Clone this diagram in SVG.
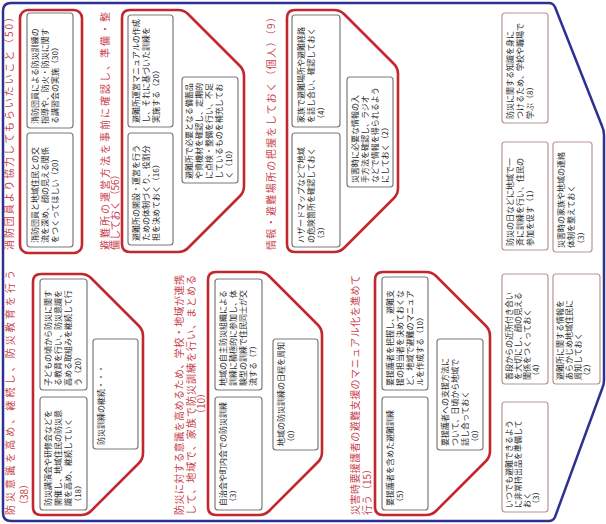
<svg xmlns="http://www.w3.org/2000/svg" width="606" height="524" viewBox="0 0 606 524">
<style>
.outer{fill:#fff;stroke:#2e3192;stroke-width:2.5;stroke-linejoin:round}
.grp{fill:none;stroke:#c1272d;stroke-width:2.6;stroke-linejoin:round}
.box{fill:#fff;stroke:#7a7a7a;stroke-width:1.2}
.rbox{fill:#fff;stroke:#b89595;stroke-width:1.2}
.hd{font-family:"Noto Sans CJK JP","Noto Sans",sans-serif;font-size:10px;fill:#c8414b}
.tx{font-family:"Noto Sans CJK JP","Noto Sans",sans-serif;font-size:8px;fill:#2a2a2a}
</style>
<rect width="606" height="524" fill="#fff"/>
<g transform="translate(0,524) rotate(-90)">
<g id="frame"><path class="outer" d="M 3,11 Q 3,3 11,3 H 513 Q 521,3 521,11 V 549 Q 521,553 517,555 L 398,602 Q 394,604 389,604 H 144 Q 139,604 135,602 L 7,555 Q 3,553 3,549 Z"/></g>

<g id="g-firefighters">
<rect class="grp" x="271" y="20" width="243" height="62" rx="8"/>
<text class="hd" x="274" y="13" textLength="238" lengthAdjust="spacing">消防団員より協力してもらいたいこと（50）</text>
</g>
<g id="box-a"><rect class="box" x="396" y="27" width="115" height="46" rx="3"/>
<text class="tx"><tspan x="400" y="38">消防団員による防災訓練の</tspan><tspan x="400" y="48">指導や、防火・防災に関す</tspan><tspan x="400" y="58">る講習会の実施（30）</tspan></text></g>
<g id="box-b"><rect class="box" x="277" y="27" width="114" height="46" rx="3"/>
<text class="tx"><tspan x="281" y="38">消防団員と地域住民との交</tspan><tspan x="281" y="48">流を深め、顔の見える関係</tspan><tspan x="281" y="58">をつくってほしい（20）</tspan></text></g>

<g id="g-shelter">
<path class="grp" d="M 280,122 H 506 Q 514,122 514,130 V 178 Q 514,184 510,188 L 458,240 Q 454,244 448,244 H 338 Q 332,244 328,240 L 276,188 Q 272,184 272,178 V 130 Q 272,122 280,122 Z"/>
<text class="hd" x="274" y="109" textLength="238" lengthAdjust="spacing">避難所の運営方法を事前に確認し、準備・整</text>
<text class="hd" x="274" y="119">備しておく（56）</text>
</g>
<g id="box-c"><rect class="box" x="397" y="128" width="112" height="45" rx="3"/>
<text class="tx"><tspan x="401" y="139">避難所運営マニュアルの作成</tspan><tspan x="401" y="149">し、それに基づいた訓練を</tspan><tspan x="401" y="159">実施する（20）</tspan></text></g>
<g id="box-d"><rect class="box" x="279" y="128" width="112" height="45" rx="3"/>
<text class="tx"><tspan x="283" y="139">避難所の開設・運営を行う</tspan><tspan x="283" y="149">ための体制づくり、役割分</tspan><tspan x="283" y="159">担を決めておく（16）</tspan></text></g>
<g id="box-e"><rect class="box" x="341" y="182" width="106" height="56" rx="3"/>
<text class="tx"><tspan x="345" y="192">避難所で必要となる備蓄品</tspan><tspan x="345" y="202">や資機材を確認し、定期的</tspan><tspan x="345" y="212">に点検・整備を行い、不足</tspan><tspan x="345" y="222">しているものを補充してお</tspan><tspan x="345" y="232">く（10）</tspan></text></g>

<g id="g-info">
<path class="grp" d="M 280,287 H 506 Q 514,287 514,295 V 334 Q 514,340 510,344 L 460,394 Q 456,398 450,398 H 336 Q 330,398 326,394 L 276,344 Q 272,340 272,334 V 295 Q 272,287 280,287 Z"/>
<text class="hd" x="274" y="275" textLength="238" lengthAdjust="spacing">情報・避難場所の把握をしておく（個人）（9）</text>
</g>
<g id="box-f"><rect class="box" x="397" y="292" width="112" height="48" rx="3"/>
<text class="tx"><tspan x="401" y="304">家族で避難場所や避難経路</tspan><tspan x="401" y="314">を話し合い、確認しておく</tspan><tspan x="401" y="324">（4）</tspan></text></g>
<g id="box-g"><rect class="box" x="277" y="292" width="114" height="48" rx="3"/>
<text class="tx"><tspan x="281" y="304">ハザードマップなどで地域</tspan><tspan x="281" y="314">の危険箇所を確認しておく</tspan><tspan x="281" y="324">（3）</tspan></text></g>
<g id="box-h"><rect class="box" x="337" y="347" width="110" height="46" rx="3"/>
<text class="tx"><tspan x="341" y="358">災害時に必要な情報の入</tspan><tspan x="341" y="368">手方法を確認し、ラジオ</tspan><tspan x="341" y="378">などで情報を得られるよう</tspan><tspan x="341" y="388">にしておく（2）</tspan></text></g>

<g id="g-education">
<path class="grp" d="M 17,33 H 242 Q 250,33 250,41 V 81 Q 250,87 246,91 L 198,139 Q 194,143 188,143 H 71 Q 65,143 61,139 L 13,91 Q 9,87 9,81 V 41 Q 9,33 17,33 Z"/>
<text class="hd" x="9" y="14" textLength="245" lengthAdjust="spacing">防災意識を高め、継続し、防災教育を行う</text>
<text class="hd" x="14" y="28">（38）</text>
</g>
<g id="box-i"><rect class="box" x="134" y="40" width="111" height="47" rx="3"/>
<text class="tx"><tspan x="138" y="51">子どもの頃から防災に関す</tspan><tspan x="138" y="61">る教育を行い、防災意識を</tspan><tspan x="138" y="71">高める取組みを継続して行</tspan><tspan x="138" y="81">う（20）</tspan></text></g>
<g id="box-j"><rect class="box" x="14" y="40" width="113" height="47" rx="3"/>
<text class="tx"><tspan x="18" y="51">防災講演会や研修会などを</tspan><tspan x="18" y="61">開催し、地域住民の防災意</tspan><tspan x="18" y="71">識を高め、継続していく</tspan><tspan x="18" y="81">（18）</tspan></text></g>
<g id="box-k"><rect class="box" x="75" y="93" width="110" height="45" rx="3"/>
<text class="tx" x="79" y="104">防災訓練の継続・・・</text></g>

<g id="g-drill">
<path class="grp" d="M 17,208 H 244 Q 252,208 252,216 V 259 Q 252,265 248,269 L 199,318 Q 195,322 189,322 H 72 Q 66,322 62,318 L 13,269 Q 9,265 9,259 V 216 Q 9,208 17,208 Z"/>
<text class="hd" x="9" y="183" textLength="240" lengthAdjust="spacing">防災に対する意識を高めるため、学校・地域が連携</text>
<text class="hd" x="9" y="195" textLength="240" lengthAdjust="spacing">して、地域で、家族で防災訓練を行い、まとめる</text>
<text class="hd" x="105" y="205">（10）</text>
</g>
<g id="box-l"><rect class="box" x="134" y="215" width="111" height="47" rx="3"/>
<text class="tx"><tspan x="138" y="226">地域の自主防災組織による</tspan><tspan x="138" y="236">訓練に積極的に参加し、体</tspan><tspan x="138" y="246">験型の訓練で住民同士が交</tspan><tspan x="138" y="256">流する（7）</tspan></text></g>
<g id="box-m"><rect class="box" x="14" y="215" width="113" height="47" rx="3"/>
<text class="tx"><tspan x="18" y="226">自治会や町内会での防災訓練</tspan><tspan x="18" y="236">（3）</tspan></text></g>
<g id="box-n"><rect class="box" x="74" y="273" width="111" height="45" rx="3"/>
<text class="tx"><tspan x="78" y="284">地域の防災訓練の日程を周知</tspan><tspan x="78" y="294">（0）</tspan></text></g>

<g id="g-support">
<path class="grp" d="M 17,375 H 244 Q 252,375 252,383 V 426 Q 252,432 248,436 L 198,486 Q 194,490 188,490 H 73 Q 67,490 63,486 L 13,436 Q 9,432 9,426 V 383 Q 9,375 17,375 Z"/>
<text class="hd" x="9" y="359" textLength="240" lengthAdjust="spacing">災害時要援護者の避難支援のマニュアル化を進めて</text>
<text class="hd" x="9" y="371">行う（15）</text>
</g>
<g id="box-o"><rect class="box" x="134" y="382" width="113" height="46" rx="3"/>
<text class="tx"><tspan x="138" y="393">要援護者を把握し、避難支</tspan><tspan x="138" y="403">援の担当者を決めておくな</tspan><tspan x="138" y="413">ど、地域で避難のマニュア</tspan><tspan x="138" y="423">ルを作成する（10）</tspan></text></g>
<g id="box-p"><rect class="box" x="14" y="382" width="113" height="46" rx="3"/>
<text class="tx"><tspan x="18" y="393">要援護者を含めた避難訓練</tspan><tspan x="18" y="403">（5）</tspan></text></g>
<g id="box-q"><rect class="box" x="74" y="437" width="111" height="46" rx="3"/>
<text class="tx"><tspan x="78" y="448">要援護者への支援方法に</tspan><tspan x="78" y="458">ついて、日頃から地域で</tspan><tspan x="78" y="468">話し合っておく</tspan><tspan x="78" y="478">（0）</tspan></text></g>

<g id="box-r1"><rect class="rbox" x="401" y="502" width="110" height="46" rx="3"/>
<text class="tx"><tspan x="405" y="513">防災に関する知識を身に</tspan><tspan x="405" y="523">つけるため、学校や職場で</tspan><tspan x="405" y="533">学ぶ（8）</tspan></text></g>
<g id="box-r2"><rect class="rbox" x="274" y="502" width="108" height="46" rx="3"/>
<text class="tx"><tspan x="278" y="513">防災の日などに地域で一</tspan><tspan x="278" y="523">斉に訓練を行い、住民の</tspan><tspan x="278" y="533">参加を促す（1）</tspan></text></g>
<g id="box-r3"><rect class="rbox" x="272" y="553" width="110" height="39" rx="3"/>
<text class="tx"><tspan x="276" y="564">災害時の家族や地域の連絡</tspan><tspan x="276" y="574">体制を整えておく</tspan><tspan x="276" y="584">（3）</tspan></text></g>
<g id="box-r4"><rect class="rbox" x="140" y="502" width="110" height="46" rx="3"/>
<text class="tx"><tspan x="144" y="512">普段からの近所付き合い</tspan><tspan x="144" y="521">を大切にし、顔の見える</tspan><tspan x="144" y="530">関係をつくっておく</tspan><tspan x="144" y="539">（4）</tspan></text></g>
<g id="box-r5"><rect class="rbox" x="140" y="553" width="110" height="47" rx="3"/>
<text class="tx"><tspan x="144" y="563">避難所に関する情報を</tspan><tspan x="144" y="572">あらかじめ地域住民に</tspan><tspan x="144" y="581">周知しておく</tspan><tspan x="144" y="590">（2）</tspan></text></g>
<g id="box-r6"><rect class="rbox" x="12" y="502" width="110" height="46" rx="3"/>
<text class="tx"><tspan x="16" y="512">いつでも避難できるよう</tspan><tspan x="16" y="521">に非常持出品を準備して</tspan><tspan x="16" y="530">おく</tspan><tspan x="16" y="539">（3）</tspan></text></g>

<g id="connectors"/>
</g>
</svg>
